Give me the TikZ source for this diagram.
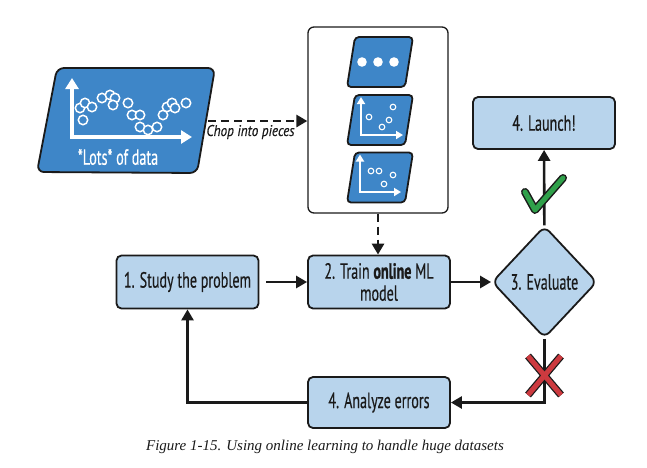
\documentclass[tikz,border=0pt]{standalone}
\usepackage{fontspec}
\setmainfont{PT Sans}[FakeStretch=0.64, UprightFeatures={FakeBold=0.35}, BoldFeatures={FakeBold=0.9}]
\newfontfamily\chopfont{PT Sans}[FakeStretch=0.85, FakeBold=0.4]
\newfontfamily\capfont{Liberation Serif}
\usetikzlibrary{arrows.meta,shapes.geometric,calc}
\definecolor{lb}{HTML}{B8D4EC}
\definecolor{db}{HTML}{3E86C8}
\definecolor{ink}{HTML}{1A1A1A}
\definecolor{okc}{HTML}{2FA04A}
\definecolor{koc}{HTML}{CC3A3F}
\tikzset{
 labelfont/.style={font=\fontsize{22}{22}\selectfont},
 stepbox/.style={draw=ink, line width=1.8pt, fill=lb, rounded corners=5pt, minimum width=142pt, minimum height=53pt, align=center, labelfont, inner sep=0pt, text=ink},
 conn/.style={draw=ink, line width=2.6pt, -{Triangle[length=11pt,width=12pt]}},
 dconn/.style={conn, line width=2.8pt, dash pattern=on 8pt off 5pt},
 piece/.style={draw=ink, line width=1.8pt, fill=db, rounded corners=4pt},
 datadot/.style={draw=white, line width=1.5pt, fill=db},
 smalldot/.style={draw=white, line width=1.1pt, fill=db},
 bigax/.style={draw=white, line width=3.8pt, line join=miter, {Triangle[length=11pt,width=13pt]}-{Triangle[length=11pt,width=13pt]}},
 smallax/.style={draw=white, line width=2.4pt, line join=miter, {Triangle[length=7pt,width=8pt]}-{Triangle[length=7pt,width=8pt]}},
}
\begin{document}
\begin{tikzpicture}[x=1pt,y=-1pt]
\useasboundingbox (0,0) rectangle (647,467);

% big data parallelogram
\draw[piece, rounded corners=7pt] (57,68) -- (215,68) -- (197,173) -- (37,172) -- cycle;
\draw[bigax] (72,78) -- (72,137) -- (192,137);
\foreach \p in {(80,108),(85,103),(92,107),(83,120),(102,98),(110,95),(115,98),(113,105),(128,103),(132,115),(140,115),(140,127),(148,130),(157,127),(163,115),(167,107),(172,103),(175,108),(186,103)}
  \draw[datadot] \p circle (4.7pt);
\node[text=white, labelfont] (lots) at (118,157) {*Lots* of data};
\coordinate (dataout) at (208,121);

% chunks box
\node[draw=ink, line width=1.3pt, rounded corners=6pt, minimum width=140pt, minimum height=186pt, inner sep=0pt] (chunks) at (378,120) {};

\begin{scope}[shift={(380,62)}]
 \draw[piece] (-25,-25) -- (33,-25) -- (25,25) -- (-33,25) -- cycle;
 \foreach \xx in {-18,-2,14} \fill[white] (\xx,0) circle (4.8pt);
\end{scope}
\begin{scope}[shift={(380,120)}]
 \draw[piece] (-25,-25) -- (33,-25) -- (25,25) -- (-33,25) -- cycle;
 \draw[smallax] (-19,-23) -- (-19,15) -- (23,15);
 \foreach \p in {(-11,-3),(2,7),(9,0),(13,-13)} \draw[smalldot] \p circle (2.8pt);
\end{scope}
\begin{scope}[shift={(380,177.5)}]
 \draw[piece] (-25,-25) -- (33,-25) -- (25,25) -- (-33,25) -- cycle;
 \draw[smallax] (-20,-23) -- (-20,14.5) -- (21,14.5);
 \foreach \p in {(-9,-6.5),(-1,-6.5),(4,6.5),(13,-2.5)} \draw[smalldot] \p circle (2.8pt);
\end{scope}

\node[text=ink, font=\chopfont\itshape\fontsize{15.5}{15.5}\selectfont] (chop) at (250.5,132) {Chop into pieces};

% steps
\node[stepbox] (study) at (187.5,282) {1. Study the problem};
\node[stepbox] (train) at (379,282) {2. Train \textbf{online} ML\\model};
\node[stepbox, minimum height=51pt] (analyze) at (379,402.5) {4. Analyze errors};
\node[stepbox, minimum height=52pt] (launch) at (544,123) {4. Launch!};
\node[diamond, draw=ink, line width=1.8pt, fill=lb, rounded corners=7pt, minimum width=105pt, minimum height=112pt, inner sep=0pt, text=ink, labelfont] (eval) at (544.5,282) {3. Evaluate};

% connectors
\draw[dconn] (dataout) -- (chunks.west |- dataout);
\draw[dconn] (chunks.south) -- (chunks.south |- train.north);
\draw[conn, shorten <=7pt] (study) -- (train);
\draw[conn] (train) -- (eval);
\draw[conn] (eval) -- (launch);
\draw[conn] (eval.south) |- (analyze.east);
\draw[conn] (analyze.west) -| (study.south);

% check and cross
\draw[ink, line width=8pt, line join=round, line cap=round] (525,192) -- (535,210) -- (563,178);
\draw[okc, line width=5pt, line join=round, line cap=round] (525,192) -- (535,210) -- (563,178);
\draw[ink, line width=7.5pt] (528,356) -- (561,395) (561,356) -- (528,395);
\draw[koc, line width=5pt] (528,356) -- (561,395) (561,356) -- (528,395);

\node[font=\capfont\itshape\fontsize{15}{15}\selectfont, text=ink] (cap) at (325,447) {Figure 1-15. Using online learning to handle huge datasets};
\end{tikzpicture}
\end{document}
